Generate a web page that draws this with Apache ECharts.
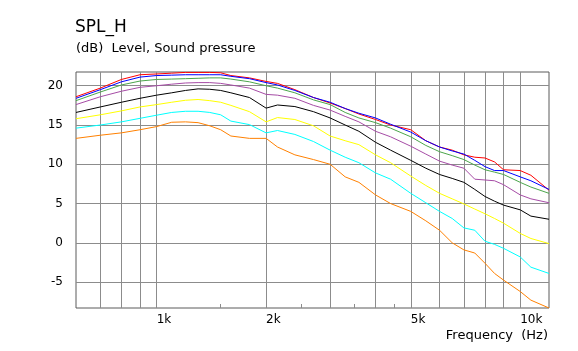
<!DOCTYPE html>
<html>
<head>
<meta charset="utf-8">
<script src="https://cdn.jsdelivr.net/npm/echarts@6/dist/echarts.min.js"></script>
<style>html,body{margin:0;padding:0;background:#fff;}#c{width:578px;height:351px;}</style>
</head>
<body>
<div id="c"></div>
<script>
// Frequencies (Hz)
const freqs = [600, 700, 800, 900, 1000, 1100, 1200, 1300, 1400, 1500, 1600, 1800, 2000, 2150, 2400, 2700, 3000, 3300, 3600, 4000, 4400, 5000, 5500, 6000, 6500, 7000, 7500, 8000, 8500, 9000, 10000, 10700, 12000];

// SPL curves (dB)
const redVals    = [18.6, 19.7, 20.8, 21.4, 21.5, 21.6, 21.7, 21.7, 21.7, 21.65, 21.3, 21.0, 20.55, 20.3, 19.5, 18.5, 17.8, 17.1, 16.4, 15.7, 15.0, 14.4, 13.0, 12.2, 11.8, 11.2, 10.9, 10.8, 10.3, 9.3, 9.2, 8.6, 6.7];
const blueVals   = [18.4, 19.5, 20.5, 21.1, 21.3, 21.35, 21.4, 21.4, 21.4, 21.4, 21.2, 20.9, 20.4, 20.1, 19.4, 18.5, 17.9, 17.1, 16.5, 15.9, 15.1, 14.1, 13.0, 12.2, 11.7, 11.3, 10.5, 9.7, 9.2, 9.2, 8.4, 7.9, 6.8];
const greenVals  = [18.1, 19.2, 20.1, 20.6, 20.8, 20.85, 20.9, 20.95, 21.0, 21.0, 20.85, 20.5, 20.0, 19.7, 19.1, 18.2, 17.6, 16.6, 15.9, 15.3, 14.6, 13.5, 12.4, 11.6, 11.1, 10.6, 9.9, 9.3, 9.0, 8.7, 7.7, 7.1, 6.3];
const purpleVals = [17.6, 18.6, 19.3, 19.8, 20.0, 20.2, 20.35, 20.4, 20.4, 20.3, 20.1, 19.7, 18.9, 18.8, 18.4, 17.5, 16.9, 16.1, 15.4, 14.2, 13.5, 12.3, 11.3, 10.4, 9.9, 9.5, 8.1, 8.0, 7.9, 7.4, 6.1, 5.6, 5.1];
const blackVals  = [16.6, 17.3, 17.9, 18.4, 18.8, 19.1, 19.4, 19.6, 19.55, 19.4, 19.1, 18.5, 17.15, 17.55, 17.35, 16.7, 15.9, 15.0, 14.2, 12.8, 11.8, 10.5, 9.5, 8.7, 8.2, 7.7, 6.8, 5.9, 5.3, 4.8, 4.2, 3.4, 3.0];
const yellowVals = [15.8, 16.3, 16.8, 17.3, 17.6, 17.9, 18.15, 18.25, 18.1, 17.9, 17.5, 16.7, 15.4, 15.95, 15.7, 14.9, 13.6, 13.0, 12.5, 11.2, 10.2, 8.5, 7.3, 6.3, 5.6, 4.95, 4.3, 3.7, 3.1, 2.5, 1.2, 0.55, -0.1];
const cyanVals   = [14.6, 15.0, 15.4, 15.85, 16.25, 16.6, 16.75, 16.75, 16.6, 16.3, 15.5, 15.05, 14.0, 14.3, 13.8, 12.9, 11.8, 10.9, 10.2, 8.9, 8.1, 6.3, 5.1, 4.0, 3.1, 1.9, 1.6, 0.2, -0.2, -0.7, -1.8, -3.1, -3.9];
const orangeVals = [13.3, 13.7, 14.0, 14.4, 14.8, 15.35, 15.4, 15.3, 14.9, 14.4, 13.6, 13.3, 13.3, 12.2, 11.2, 10.6, 10.0, 8.4, 7.7, 6.1, 5.0, 4.0, 2.8, 1.6, 0.0, -0.9, -1.3, -2.6, -3.9, -4.75, -6.2, -7.3, -8.3];

// Axis ticks
const xGridTicks = [700, 800, 900, 1000, 2000, 3000, 4000, 5000, 6000, 7000, 8000, 9000, 10000];
const xLabelTicks = [1000, 2000, 5000, 10000];
const xMinorTicks = [1500, 2500, 3500, 4500];
const xLabelText = {1000: '1k', 2000: '2k', 5000: '5k', 10000: '10k'};
const yTicks = [-5, 0, 5, 10, 15, 20];

const seriesList = [
  {name: 'red', data: redVals, color: '#ff0000'},
  {name: 'blue', data: blueVals, color: '#0000ff'},
  {name: 'green', data: greenVals, color: '#4ca64c'},
  {name: 'purple', data: purpleVals, color: '#a64ca6'},
  {name: 'black', data: blackVals, color: '#000000'},
  {name: 'yellow', data: yellowVals, color: '#ffff00'},
  {name: 'cyan', data: cyanVals, color: '#00ffff'},
  {name: 'orange', data: orangeVals, color: '#ff8000'}
];

const FONT = 'DejaVu Sans';
const chart = echarts.init(document.getElementById('c'), null, {renderer: 'canvas'});
chart.setOption({
  animation: false,
  backgroundColor: '#ffffff',
  title: [
    {text: 'SPL_H', left: 75, top: 19, padding: 0,
     textStyle: {fontFamily: FONT, fontSize: 17, fontWeight: 'normal', color: '#000'}},
    {text: '(dB)  Level, Sound pressure', left: 76, top: 42, padding: 0,
     textStyle: {fontFamily: FONT, fontSize: 13, fontWeight: 'normal', color: '#000'}}
  ],
  graphic: [{
    type: 'text', right: 30, top: 329,
    style: {text: 'Frequency  (Hz)', font: '13px "DejaVu Sans"', fill: '#000'}
  }],
  grid: {left: 76, right: 29, top: 72, bottom: 43, show: true, borderColor: '#5a5a5a', borderWidth: 1, backgroundColor: 'transparent'},
  xAxis: [{
    type: 'log', logBase: 10, min: 600, max: 12000,
    axisLine: {show: false},
    axisTick: {show: false, customValues: xGridTicks},
    splitLine: {show: true, lineStyle: {color: '#8c8c8c', width: 1}},
    axisLabel: {customValues: xLabelTicks, align: 'left', margin: 6,
      fontFamily: FONT, fontSize: 12, color: '#000',
      formatter: v => xLabelText[v] || ''}
  }, {
    type: 'log', logBase: 10, min: 600, max: 12000, position: 'bottom',
    axisLine: {show: false},
    axisTick: {show: true, inside: true, length: 4, customValues: xMinorTicks, lineStyle: {color: '#8c8c8c'}},
    splitLine: {show: false},
    axisLabel: {show: false}
  }],
  yAxis: {
    type: 'value', min: -8.3, max: 21.75,
    axisLine: {show: false},
    axisTick: {show: false, customValues: yTicks},
    splitLine: {show: true, lineStyle: {color: '#8c8c8c', width: 1}},
    axisLabel: {customValues: yTicks, margin: 13, fontFamily: FONT, fontSize: 12, color: '#000',
      showMinLabel: true, showMaxLabel: true}
  },
  series: seriesList.map(s => ({
    name: s.name, type: 'line', xAxisIndex: 0,
    data: freqs.map((f, i) => [f, s.data[i]]),
    showSymbol: false, symbol: 'none', silent: true,
    lineStyle: {color: s.color, width: 1},
    itemStyle: {color: s.color}
  }))
});
</script>
</body>
</html>
